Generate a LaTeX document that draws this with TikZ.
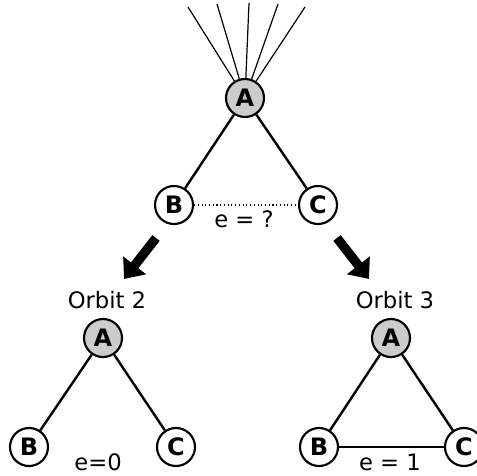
\documentclass[tikz,border=0pt]{standalone}
\usepackage{fontspec}
\setmainfont{DejaVu Sans}
\usetikzlibrary{arrows.meta, positioning}

\begin{document}
\begin{tikzpicture}[
  x=0.75pt, y=-0.75pt,
  vertex/.style={
    circle, draw, line width=1.6pt, fill=white,
    minimum size=28.5pt, inner sep=0pt,
    font=\fontsize{18}{20}\selectfont\bfseries
  },
  root/.style={vertex, fill=black!20},
  lbl/.style={font=\fontsize{17}{19}\selectfont, inner sep=0pt},
  edge/.style={line width=1.8pt},
  fan/.style={line width=0.9pt},
  maybe/.style={line width=0.8pt, dotted},
  bigarrow/.style={line width=7pt, -{Triangle[length=13pt, width=21pt]}},
]
\useasboundingbox (0,0) rectangle (477,475);
% --- TOP: open triad ---
\node[root] (A) at (245,98) {A};
\node[vertex] (B) at (174,205) {B};
\node[vertex] (C) at (318,205) {C};
\draw[edge] (A) -- (B);
\draw[edge] (A) -- (C);
\draw[maybe] (B) -- (C);
\node[lbl] (eq) at (244,219) {e = ?};
% rest of the graph around A
\foreach \x/\y [count=\i] in {188/7, 217/4, 249/3, 278/4, 305/7} {
  \coordinate (n\i) at (\x,\y);
  \draw[fan] (A) -- (n\i);
}
% --- split arrows ---
\coordinate (l0) at (156,238);
\coordinate (l1) at (124,279);
\coordinate (r0) at (337,238);
\coordinate (r1) at (369,279);
\draw[bigarrow] (l0) -- (l1);
\draw[bigarrow] (r0) -- (r1);
% --- LEFT: orbit 2 (no edge B--C) ---
\node[lbl] (o2) at (107,300) {Orbit 2};
\node[root] (A2) at (103,338) {A};
\node[vertex] (B2) at (29,447) {B};
\node[vertex] (C2) at (176,447) {C};
\draw[edge] (A2) -- (B2);
\draw[edge] (A2) -- (C2);
\node[lbl] (e0) at (98,462) {e=0};
% --- RIGHT: orbit 3 (closed triangle) ---
\node[lbl] (o3) at (395,300) {Orbit 3};
\node[root] (A3) at (391,338) {A};
\node[vertex] (B3) at (319,447) {B};
\node[vertex] (C3) at (464,447) {C};
\draw[edge] (A3) -- (B3);
\draw[edge] (A3) -- (C3);
\draw[edge] (B3) -- (C3);
\node[lbl] (e1) at (390,462) {e = 1};
\end{tikzpicture}
\end{document}
